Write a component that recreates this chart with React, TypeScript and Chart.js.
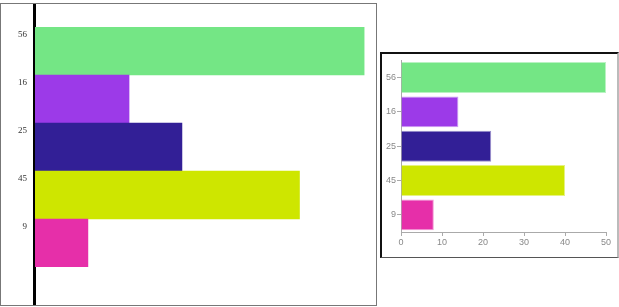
import React, { useEffect, useRef } from "react";
import { Chart, registerables } from "chart.js";

Chart.register(...registerables);

const categories = ["56", "16", "25", "45", "9"];
const mainValues = [56, 16, 25, 45, 9];
const insetValues = [50, 14, 22, 40, 8];
const barColors = ["#74e685", "#9c3ae8", "#321f96", "#cee600", "#e62fa9"];
const insetBorderColors = [
  "rgba(116,230,133,0.5)",
  "rgba(156,58,232,0.5)",
  "rgba(50,31,150,0.5)",
  "rgba(206,230,0,0.5)",
  "rgba(230,47,169,0.5)",
];
const insetTicks = [0, 10, 20, 30, 40, 50];

const axisLinePlugin = {
  id: "thickAxis",
  beforeDatasetsDraw(chart: any) {
    const ctx = chart.ctx;
    ctx.save();
    ctx.fillStyle = "#000";
    ctx.fillRect(chart.chartArea.left - 2, 0, 3, chart.height);
    ctx.restore();
  },
};

function MainChart() {
  const ref = useRef<HTMLCanvasElement | null>(null);
  useEffect(() => {
    if (!ref.current) return;
    const chart = new Chart(ref.current, {
      type: "bar",
      data: {
        labels: categories,
        datasets: [
          {
            data: mainValues,
            backgroundColor: barColors,
            borderWidth: 0,
            barPercentage: 1,
            categoryPercentage: 1,
          },
        ],
      },
      options: {
        indexAxis: "y",
        animation: false,
        responsive: false,
        layout: { padding: { top: 23, bottom: 38, left: 0, right: 6 } },
        plugins: { legend: { display: false }, tooltip: { enabled: false } },
        scales: {
          x: { display: false, min: 0, max: 57 },
          y: {
            grid: { display: false, drawTicks: false, tickLength: 0 },
            border: { display: false },
            ticks: {
              padding: 8,
              labelOffset: -16,
              color: "#333",
              font: { family: "Liberation Serif", size: 9 },
            },
            afterFit: (s: any) => {
              s.width = 34;
            },
          },
        },
      } as any,
      plugins: [axisLinePlugin],
    });
    return () => chart.destroy();
  }, []);
  return (
    <canvas
      ref={ref}
      width={375}
      height={301}
      style={{ position: "absolute", left: 1, top: 4, width: 375, height: 301 }}
    />
  );
}

function InsetChart() {
  const ref = useRef<HTMLCanvasElement | null>(null);
  useEffect(() => {
    if (!ref.current) return;
    const font = { family: "Liberation Sans", size: 9 };
    const chart = new Chart(ref.current, {
      type: "bar",
      data: {
        labels: categories,
        datasets: [
          {
            data: insetValues,
            backgroundColor: barColors,
            borderColor: insetBorderColors,
            borderWidth: 1,
            barPercentage: 0.9,
            categoryPercentage: 1,
          },
        ],
      },
      options: {
        indexAxis: "y",
        animation: false,
        responsive: false,
        layout: { padding: { top: 6, bottom: 0, left: 0, right: 10 } },
        plugins: { legend: { display: false }, tooltip: { enabled: false } },
        scales: {
          x: {
            min: 0,
            max: 50,
            afterBuildTicks: (s: any) => {
              s.ticks = insetTicks.map((v) => ({ value: v }));
            },
            grid: { drawOnChartArea: false, tickLength: 4, color: "#aaa" },
            border: { color: "#aaa" },
            ticks: { padding: 1, color: "#888", font, maxRotation: 0 },
            afterFit: (s: any) => {
              s.height = 23;
            },
          },
          y: {
            grid: { drawOnChartArea: false, tickLength: 4, color: "#aaa", offset: false },
            border: { color: "#aaa" },
            ticks: { padding: 1, color: "#888", font },
            afterFit: (s: any) => {
              s.width = 19;
            },
          },
        },
      } as any,
    });
    return () => chart.destroy();
  }, []);
  return (
    <canvas
      ref={ref}
      width={234}
      height={201}
      style={{ position: "absolute", left: 382, top: 54, width: 234, height: 201 }}
    />
  );
}

export default function App() {
  return (
    <div style={{ position: "fixed", left: 0, top: 0, width: 619, height: 307, background: "#fff" }}>
      <div
        style={{
          position: "absolute",
          left: 0,
          top: 3,
          width: 377,
          height: 303,
          boxSizing: "border-box",
          border: "1px solid #777",
        }}
      />
      <MainChart />
      <div
        style={{
          position: "absolute",
          left: 380,
          top: 52,
          width: 239,
          height: 206,
          boxSizing: "border-box",
          borderTop: "2px solid #111",
          borderLeft: "2px solid #111",
          borderRight: "2px solid #bbb",
          borderBottom: "1px solid #555",
        }}
      />
      <InsetChart />
    </div>
  );
}
